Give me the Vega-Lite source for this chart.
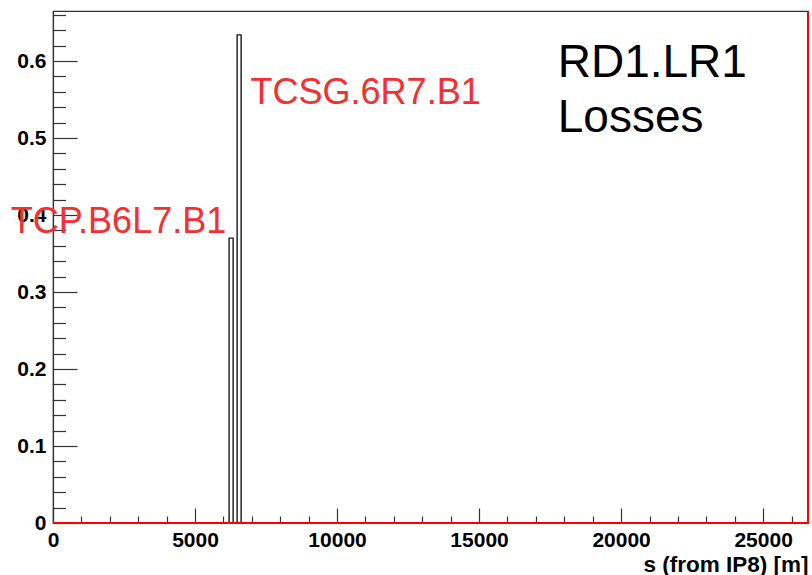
{
  "$schema": "https://vega.github.io/schema/vega-lite/v6.json",
  "width": 755,
  "height": 512,
  "autosize": {"type": "none"},
  "padding": {"left": 53, "top": 11, "right": 4, "bottom": 52},
  "background": "#ffffff",
  "config": {
    "view": {"stroke": "#333333", "strokeWidth": 1.2},
    "axis": {"grid": false, "domainColor": "#333333", "tickColor": "#333333", "domainWidth": 1.2, "tickWidth": 1.2,
      "labelFont": "Liberation Sans", "labelFontWeight": "bold", "labelFontSize": 21, "labelColor": "#000000",
      "titleFont": "Liberation Sans", "titleFontWeight": "bold", "titleColor": "#000000"}
  },
  "resolve": {"axis": {"x": "independent", "y": "independent"}},
  "layer": [
    {
      "data": {"values": [
        {"s0": 6200, "s1": 6341, "loss": 0.370, "name": "TCP.B6L7.B1"},
        {"s0": 6482, "s1": 6623, "loss": 0.634, "name": "TCSG.6R7.B1"}
      ]},
      "mark": {"type": "rect", "fill": "#ffffff", "stroke": "#1a1a1a", "strokeWidth": 1.4},
      "encoding": {
        "x": {"field": "s0", "type": "quantitative", "scale": {"domain": [0, 26580], "nice": false, "zero": false},
          "axis": {"orient": "bottom", "values": [0, 5000, 10000, 15000, 20000, 25000], "tickSize": -15, "labelPadding": 21, "labelBaseline": "top",
            "labelFlush": false, "labelOverlap": false, "format": "d", "title": "s (from IP8) [m]", "titleFontSize": 22.5,
            "titleAnchor": "end", "titleAlign": "right", "titleBaseline": "alphabetic", "titleX": 755, "titleY": 48}},
        "x2": {"field": "s1"},
        "y": {"field": "loss", "type": "quantitative", "scale": {"domain": [0, 0.665], "nice": false},
          "axis": {"orient": "left", "values": [0, 0.1, 0.2, 0.3, 0.4, 0.5, 0.6], "tickSize": -24, "labelPadding": 31, "labelFlush": false,
            "labelOverlap": false, "labelExpr": "datum.value == 0 ? '0' : format(datum.value, '.1f')", "title": null}},
        "y2": {"datum": 0}
      }
    },
    {
      "data": {"values": [
        {"s": 0, "v": 0},
        {"s": 26580, "v": 0},
        {"s": 26580, "v": 0.665}
      ]},
      "mark": {"type": "line", "color": "#ff0000", "strokeWidth": 2, "interpolate": "linear"},
      "encoding": {
        "x": {"field": "s", "type": "quantitative",
          "axis": {"orient": "bottom", "values": [1000,2000,3000,4000,6000,7000,8000,9000,11000,12000,13000,14000,16000,17000,18000,19000,21000,22000,23000,24000,26000],
            "tickSize": -7, "labels": false, "domain": false, "title": null}},
        "y": {"field": "v", "type": "quantitative",
          "axis": {"orient": "left", "values": [0.02,0.04,0.06,0.08,0.12,0.14,0.16,0.18,0.22,0.24,0.26,0.28,0.32,0.34,0.36,0.38,0.42,0.44,0.46,0.48,0.52,0.54,0.56,0.58,0.62,0.64,0.66],
            "tickSize": -12.5, "labels": false, "domain": false, "title": null}},
        "order": {"field": "s", "type": "quantitative"}
      }
    },
    {
      "data": {"values": [
        {"label": "TCSG.6R7.B1", "s": 6956, "v": 0.5438},
        {"label": "TCP.B6L7.B1", "s": -1488, "v": 0.3762}
      ]},
      "mark": {"type": "text", "align": "left", "baseline": "alphabetic", "font": "Liberation Sans", "fontSize": 36, "color": "#f52f2f"},
      "encoding": {
        "x": {"field": "s", "type": "quantitative", "axis": null},
        "y": {"field": "v", "type": "quantitative", "axis": null},
        "text": {"field": "label"}
      }
    },
    {
      "data": {"values": [
        {"label": "RD1.LR1", "s": 17769, "v": 0.5796},
        {"label": "Losses", "s": 17769, "v": 0.5082}
      ]},
      "mark": {"type": "text", "align": "left", "baseline": "alphabetic", "font": "Liberation Sans", "fontSize": 46, "color": "#000000"},
      "encoding": {
        "x": {"field": "s", "type": "quantitative", "axis": null},
        "y": {"field": "v", "type": "quantitative", "axis": null},
        "text": {"field": "label"}
      }
    }
  ]
}
